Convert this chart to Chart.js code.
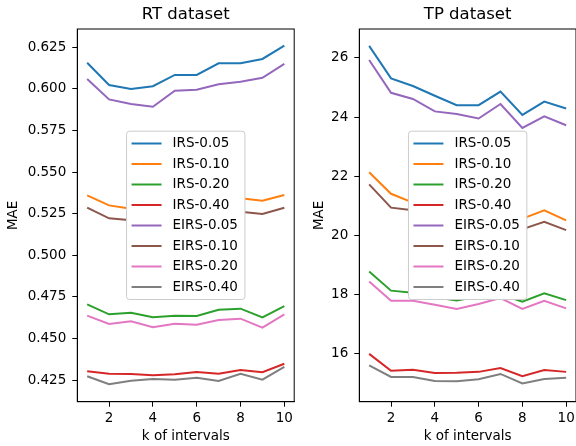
<!DOCTYPE html>
<html>
<head>
<meta charset="utf-8">
<script src="https://cdn.jsdelivr.net/npm/chart.js@4.4.1/dist/chart.umd.min.js"></script>
<style>
  html, body { margin: 0; padding: 0; background: #fff; }
  #wrap { position: relative; width: 576px; height: 446px; overflow: hidden; }
  canvas { position: absolute; top: 0; }
  #rt { left: 0; }
  #tp { left: 298px; }
</style>
</head>
<body>
<div id="wrap">
  <canvas id="rt" width="298" height="446"></canvas>
  <canvas id="tp" width="278" height="446"></canvas>
</div>
<script>
// k of intervals
const kValues = [1, 2, 3, 4, 5, 6, 7, 8, 9, 10];
const xTicks = [2, 4, 6, 8, 10];

const seriesNames = ["IRS-0.05", "IRS-0.10", "IRS-0.20", "IRS-0.40", "EIRS-0.05", "EIRS-0.10", "EIRS-0.20", "EIRS-0.40"];
const seriesColors = ["#1f77b4", "#ff7f0e", "#2ca02c", "#d62728", "#9467bd", "#8c564b", "#e377c2", "#7f7f7f"];

// RT dataset (MAE)
const rtIRS005 = [0.6157, 0.6023, 0.6000, 0.6016, 0.6084, 0.6084, 0.6154, 0.6154, 0.6180, 0.6260];
const rtIRS010 = [0.5360, 0.5300, 0.5280, 0.5270, 0.5280, 0.5290, 0.5335, 0.5343, 0.5328, 0.5362];
const rtIRS020 = [0.4705, 0.4645, 0.4655, 0.4627, 0.4637, 0.4635, 0.4673, 0.4679, 0.4627, 0.4695];
const rtIRS040 = [0.4303, 0.4288, 0.4287, 0.4279, 0.4285, 0.4299, 0.4288, 0.4311, 0.4297, 0.4348];
const rtEIRS005 = [0.6059, 0.5937, 0.5909, 0.5893, 0.5989, 0.5995, 0.6028, 0.6043, 0.6067, 0.6150];
const rtEIRS010 = [0.5286, 0.5222, 0.5210, 0.5205, 0.5210, 0.5215, 0.5250, 0.5262, 0.5248, 0.5286];
const rtEIRS020 = [0.4637, 0.4587, 0.4603, 0.4567, 0.4589, 0.4583, 0.4611, 0.4619, 0.4565, 0.4645];
const rtEIRS040 = [0.4273, 0.4225, 0.4246, 0.4256, 0.4252, 0.4264, 0.4244, 0.4288, 0.4252, 0.4329];
const rtYTicks = [0.425, 0.450, 0.475, 0.500, 0.525, 0.550, 0.575, 0.600, 0.625];

// TP dataset (MAE)
const tpIRS005 = [26.41, 25.31, 25.05, 24.72, 24.40, 24.40, 24.86, 24.07, 24.52, 24.29];
const tpIRS010 = [22.13, 21.40, 21.10, 20.95, 20.85, 20.95, 21.20, 20.56, 20.84, 20.50];
const tpIRS020 = [18.77, 18.12, 18.05, 17.90, 17.79, 17.92, 18.00, 17.75, 18.03, 17.80];
const tpIRS040 = [15.98, 15.41, 15.44, 15.33, 15.34, 15.37, 15.50, 15.22, 15.43, 15.37];
const tpEIRS005 = [25.93, 24.82, 24.61, 24.19, 24.10, 23.95, 24.44, 23.63, 24.02, 23.72];
const tpEIRS010 = [21.72, 20.93, 20.84, 20.60, 20.55, 20.60, 20.85, 20.20, 20.45, 20.17];
const tpEIRS020 = [18.43, 17.78, 17.78, 17.64, 17.50, 17.67, 17.87, 17.50, 17.78, 17.52];
const tpEIRS040 = [15.59, 15.20, 15.20, 15.06, 15.05, 15.12, 15.30, 14.98, 15.13, 15.17];
const tpYTicks = [16, 18, 20, 22, 24, 26];

const FONT = "'DejaVu Sans', sans-serif";

// axes box + legend in the middle of the plot, matplotlib style
const boxAndLegend = {
  id: "boxAndLegend",
  afterDraw(chart) {
    const { ctx, chartArea: a } = chart;
    ctx.save();
    ctx.strokeStyle = "#000";
    ctx.lineWidth = 1;
    ctx.strokeRect(a.left, a.top, a.right - a.left, a.bottom - a.top);

    const sets = chart.data.datasets;
    ctx.font = "13.5px " + FONT;
    const textW = Math.max(...sets.map((d) => ctx.measureText(d.label).width));
    const rowH = 20.5;
    const w = 46 + textW + 7;
    const h = rowH * sets.length + 4.3;
    const x = (a.left + a.right) / 2 - w / 2;
    const y = (a.top + a.bottom) / 2 - h / 2;

    ctx.beginPath();
    ctx.roundRect(x, y, w, h, 3);
    ctx.fillStyle = "#fff";
    ctx.fill();
    ctx.strokeStyle = "#cccccc";
    ctx.stroke();

    ctx.textBaseline = "middle";
    ctx.textAlign = "left";
    sets.forEach((d, i) => {
      const cy = y + 2.05 + rowH / 2 + i * rowH;
      ctx.beginPath();
      ctx.moveTo(x + 5, cy);
      ctx.lineTo(x + 35, cy);
      ctx.strokeStyle = d.borderColor;
      ctx.lineWidth = 2;
      ctx.stroke();
      ctx.fillStyle = "#000";
      ctx.fillText(d.label, x + 46, cy);
    });
    ctx.restore();
  },
};

function makeChart(id, title, series, yMin, yMax, yTicks, yFmt, yWidth, yTitlePad, padRight) {
  const ctx = document.getElementById(id).getContext("2d");
  return new Chart(ctx, {
    type: "line",
    data: {
      datasets: series.map((vals, i) => ({
        label: seriesNames[i],
        data: kValues.map((k, j) => ({ x: k, y: vals[j] })),
        borderColor: seriesColors[i],
        backgroundColor: seriesColors[i],
        borderWidth: 2,
        pointRadius: 0,
        tension: 0,
        fill: false,
      })),
    },
    options: {
      responsive: false,
      animation: false,
      events: [],
      layout: { padding: { left: 0, right: padRight, top: 0, bottom: 0 } },
      scales: {
        x: {
          type: "linear",
          min: 0.55,
          max: 10.45,
          afterBuildTicks: (s) => { s.ticks = xTicks.map((v) => ({ value: v })); },
          afterFit: (s) => { s.height = 44.3; s.paddingLeft = 0; s.paddingRight = 0; },
          grid: { display: true, drawOnChartArea: false, drawTicks: true, tickLength: 5, color: "#000" },
          border: { display: true, color: "#000", width: 1 },
          ticks: { color: "#000", padding: 3.2, font: { family: FONT, size: 13.5 }, autoSkip: false, maxRotation: 0 },
          title: { display: true, text: "k of intervals", color: "#000", font: { family: FONT, size: 13.5 }, padding: { top: 0, bottom: 1.6 } },
        },
        y: {
          type: "linear",
          min: yMin,
          max: yMax,
          afterBuildTicks: (s) => { s.ticks = yTicks.map((v) => ({ value: v })); },
          afterFit: (s) => { s.width = yWidth; s.paddingTop = 0; s.paddingBottom = 0; },
          grid: { display: true, drawOnChartArea: false, drawTicks: true, tickLength: 5, color: "#000" },
          border: { display: true, color: "#000", width: 1 },
          ticks: { color: "#000", padding: 6, font: { family: FONT, size: 13.5 }, callback: yFmt, autoSkip: false },
          title: { display: true, text: "MAE", color: "#000", font: { family: FONT, size: 13.5 }, padding: { top: yTitlePad, bottom: 0 } },
        },
      },
      plugins: {
        legend: { display: false },
        tooltip: { enabled: false },
        title: {
          display: true,
          text: title,
          fullSize: false,
          color: "#000",
          font: { family: FONT, size: 16.5, weight: "normal" },
          padding: { top: 5.1, bottom: 4.1 },
        },
      },
    },
    plugins: [boxAndLegend],
  });
}

makeChart("rt", "RT dataset",
  [rtIRS005, rtIRS010, rtIRS020, rtIRS040, rtEIRS005, rtEIRS010, rtEIRS020, rtEIRS040],
  0.412, 0.636, rtYTicks, (v) => Number(v).toFixed(3), 77.3, 5.7, 3.8);

makeChart("tp", "TP dataset",
  [tpIRS005, tpIRS010, tpIRS020, tpIRS040, tpEIRS005, tpEIRS010, tpEIRS020, tpEIRS040],
  14.36, 26.98, tpYTicks, (v) => String(v), 61.3, 13.7, 0);
</script>
</body>
</html>
